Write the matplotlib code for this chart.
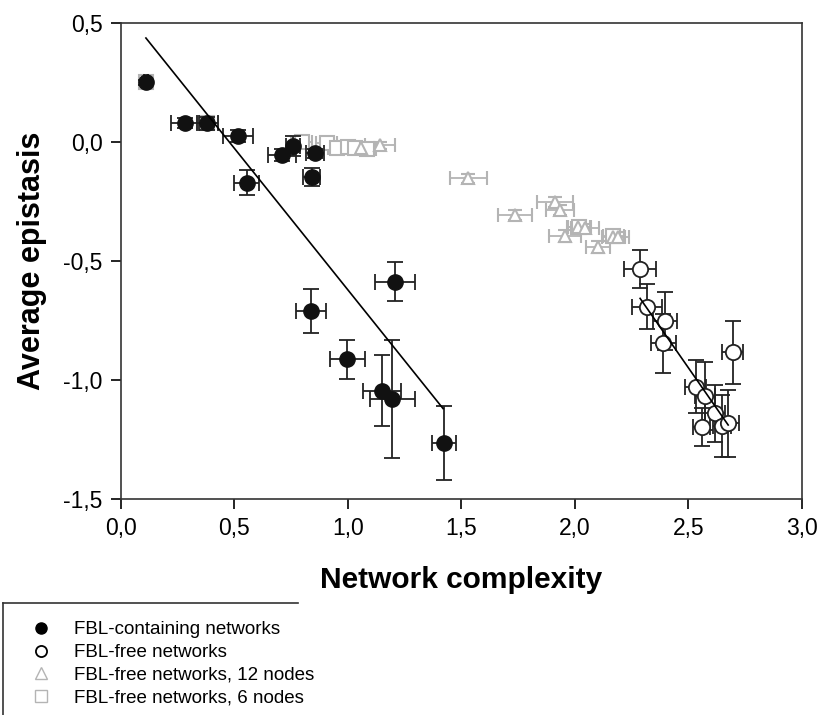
import matplotlib
matplotlib.use("Agg")
import matplotlib.pyplot as plt
from matplotlib.lines import Line2D
from matplotlib.ticker import FuncFormatter

plt.rcParams["font.family"] = ["Liberation Sans", "DejaVu Sans"]

# FBL-containing networks (filled circles)
fbl_x = [0.111, 0.283, 0.382, 0.518, 0.555, 0.712, 0.760, 0.856, 0.841,
         0.838, 1.208, 0.998, 1.150, 1.197, 1.424]
fbl_y = [0.251, 0.079, 0.079, 0.025, -0.171, -0.055, -0.017, -0.048, -0.146,
         -0.710, -0.587, -0.913, -1.045, -1.080, -1.266]
fbl_xerr = [0.010, 0.062, 0.048, 0.066, 0.056, 0.062, 0.030, 0.040, 0.037,
            0.068, 0.087, 0.077, 0.084, 0.101, 0.052]
fbl_yerr = [0.010, 0.020, 0.028, 0.024, 0.053, 0.025, 0.042, 0.020, 0.037,
            0.093, 0.081, 0.083, 0.149, 0.249, 0.155]

# FBL-free networks (open circles)
free_x = [2.288, 2.320, 2.398, 2.390, 2.534, 2.574, 2.618, 2.559, 2.648,
          2.677, 2.696]
free_y = [-0.535, -0.692, -0.751, -0.846, -1.028, -1.066, -1.140, -1.199,
          -1.193, -1.182, -0.884]
free_xerr = [0.070, 0.066, 0.051, 0.055, 0.046, 0.045, 0.045, 0.037, 0.040,
             0.045, 0.047]
free_yerr = [0.080, 0.095, 0.122, 0.123, 0.110, 0.143, 0.120, 0.080, 0.130,
             0.140, 0.133]

# FBL-free networks, 12 nodes (gray triangles)
n12_x = [1.060, 1.142, 1.531, 1.913, 1.935, 1.737, 2.016, 2.045, 1.957,
         2.104, 2.170, 2.192]
n12_y = [-0.025, -0.013, -0.153, -0.251, -0.286, -0.307, -0.359, -0.363,
         -0.395, -0.440, -0.398, -0.400]
n12_xerr = [0.040, 0.066, 0.082, 0.079, 0.063, 0.076, 0.050, 0.060, 0.071,
            0.053, 0.050, 0.045]
n12_yerr = [0.015, 0.015, 0.020, 0.020, 0.020, 0.020, 0.020, 0.020, 0.025,
            0.025, 0.020, 0.020]

# FBL-free networks, 6 nodes (gray squares)
n6_x = [0.111, 0.382, 0.797, 0.907, 0.951, 1.003, 1.032, 1.084, 2.020, 2.170]
n6_y = [0.251, 0.079, 0.000, -0.003, -0.027, -0.022, -0.027, -0.031,
        -0.355, -0.395]
n6_xerr = [0.015, 0.045, 0.045, 0.045, 0.040, 0.040, 0.040, 0.040, 0.050,
           0.045]
n6_yerr = [0.010, 0.020, 0.020, 0.020, 0.020, 0.020, 0.015, 0.015, 0.020,
           0.020]

# regression lines
fit_fbl_x = [0.111, 1.42]
fit_fbl_y = [0.437, -1.12]
fit_free_x = [2.288, 2.676]
fit_free_y = [-0.657, -1.189]

GRAY = "#b4b4b4"
DARK = "#222222"

fig = plt.figure(figsize=(8.19, 7.15), dpi=100)
ax = fig.add_axes([0.1474, 0.3021, 0.8315, 0.6657])

ax.errorbar(n6_x, n6_y, xerr=n6_xerr, yerr=n6_yerr, fmt="s", ms=10,
            mfc="white", mec=GRAY, mew=1.5, ecolor=GRAY, elinewidth=1.3,
            capsize=5, capthick=1.3, zorder=2)
ax.errorbar(n12_x, n12_y, xerr=n12_xerr, yerr=n12_yerr, fmt="^", ms=9,
            mfc="white", mec=GRAY, mew=1.5, ecolor=GRAY, elinewidth=1.3,
            capsize=5, capthick=1.3, zorder=2)
ax.errorbar(fbl_x, fbl_y, xerr=fbl_xerr, yerr=fbl_yerr, fmt="o", ms=11,
            mfc="#111111", mec="#111111", ecolor=DARK, elinewidth=1.3,
            capsize=5.5, capthick=1.3, zorder=3)
ax.errorbar(free_x, free_y, xerr=free_xerr, yerr=free_yerr, fmt="o", ms=11,
            mfc="white", mec=DARK, mew=1.3, ecolor=DARK, elinewidth=1.3,
            capsize=5.5, capthick=1.3, zorder=3)

ax.plot(fit_fbl_x, fit_fbl_y, color="black", lw=1.2, zorder=4)
ax.plot(fit_free_x, fit_free_y, color="black", lw=1.2, zorder=4)

ax.set_xlim(0, 3.0)
ax.set_ylim(-1.5, 0.5)
ax.set_xticks([0, 0.5, 1.0, 1.5, 2.0, 2.5, 3.0])
ax.set_yticks([-1.5, -1.0, -0.5, 0.0, 0.5])
comma = FuncFormatter(lambda v, p: f"{v:.1f}".replace(".", ","))
ax.xaxis.set_major_formatter(comma)
ax.yaxis.set_major_formatter(comma)
ax.tick_params(direction="out", length=7, width=1.2, labelsize=16.5,
               pad=6, top=False, right=False)
for s in ax.spines.values():
    s.set_linewidth(1.2)
    s.set_color("#333333")

ax.set_xlabel("Network complexity", fontsize=21.5, fontweight="bold",
              labelpad=19)
ax.set_ylabel("Average epistasis", fontsize=22, fontweight="bold",
              labelpad=12)

# legend frame: only top and left edges are visible in the original crop
fig.add_artist(Line2D([3 / 819, 3 / 819], [0, 1 - 603 / 715],
                      transform=fig.transFigure, color="#333333", lw=1.2))
fig.add_artist(Line2D([3 / 819, 298 / 819], [1 - 603 / 715, 1 - 603 / 715],
                      transform=fig.transFigure, color="#333333", lw=1.2))
handles = [
    Line2D([], [], ls="none", marker="o", ms=8, mfc="black", mec="black"),
    Line2D([], [], ls="none", marker="o", ms=8, mfc="white", mec="black",
           mew=1.3),
    Line2D([], [], ls="none", marker="^", ms=8, mfc="white", mec=GRAY),
    Line2D([], [], ls="none", marker="s", ms=8, mfc="white", mec=GRAY),
]
labels = ["FBL-containing networks", "FBL-free networks",
          "FBL-free networks, 12 nodes", "FBL-free networks, 6 nodes"]
fig.legend(handles, labels, loc="upper left",
           bbox_to_anchor=(18 / 819, 1 - 612 / 715), frameon=False,
           fontsize=13.5, handletextpad=1.0, labelspacing=0.3,
           borderpad=0, handlelength=1.5)

fig.savefig("out.png", dpi=100)
